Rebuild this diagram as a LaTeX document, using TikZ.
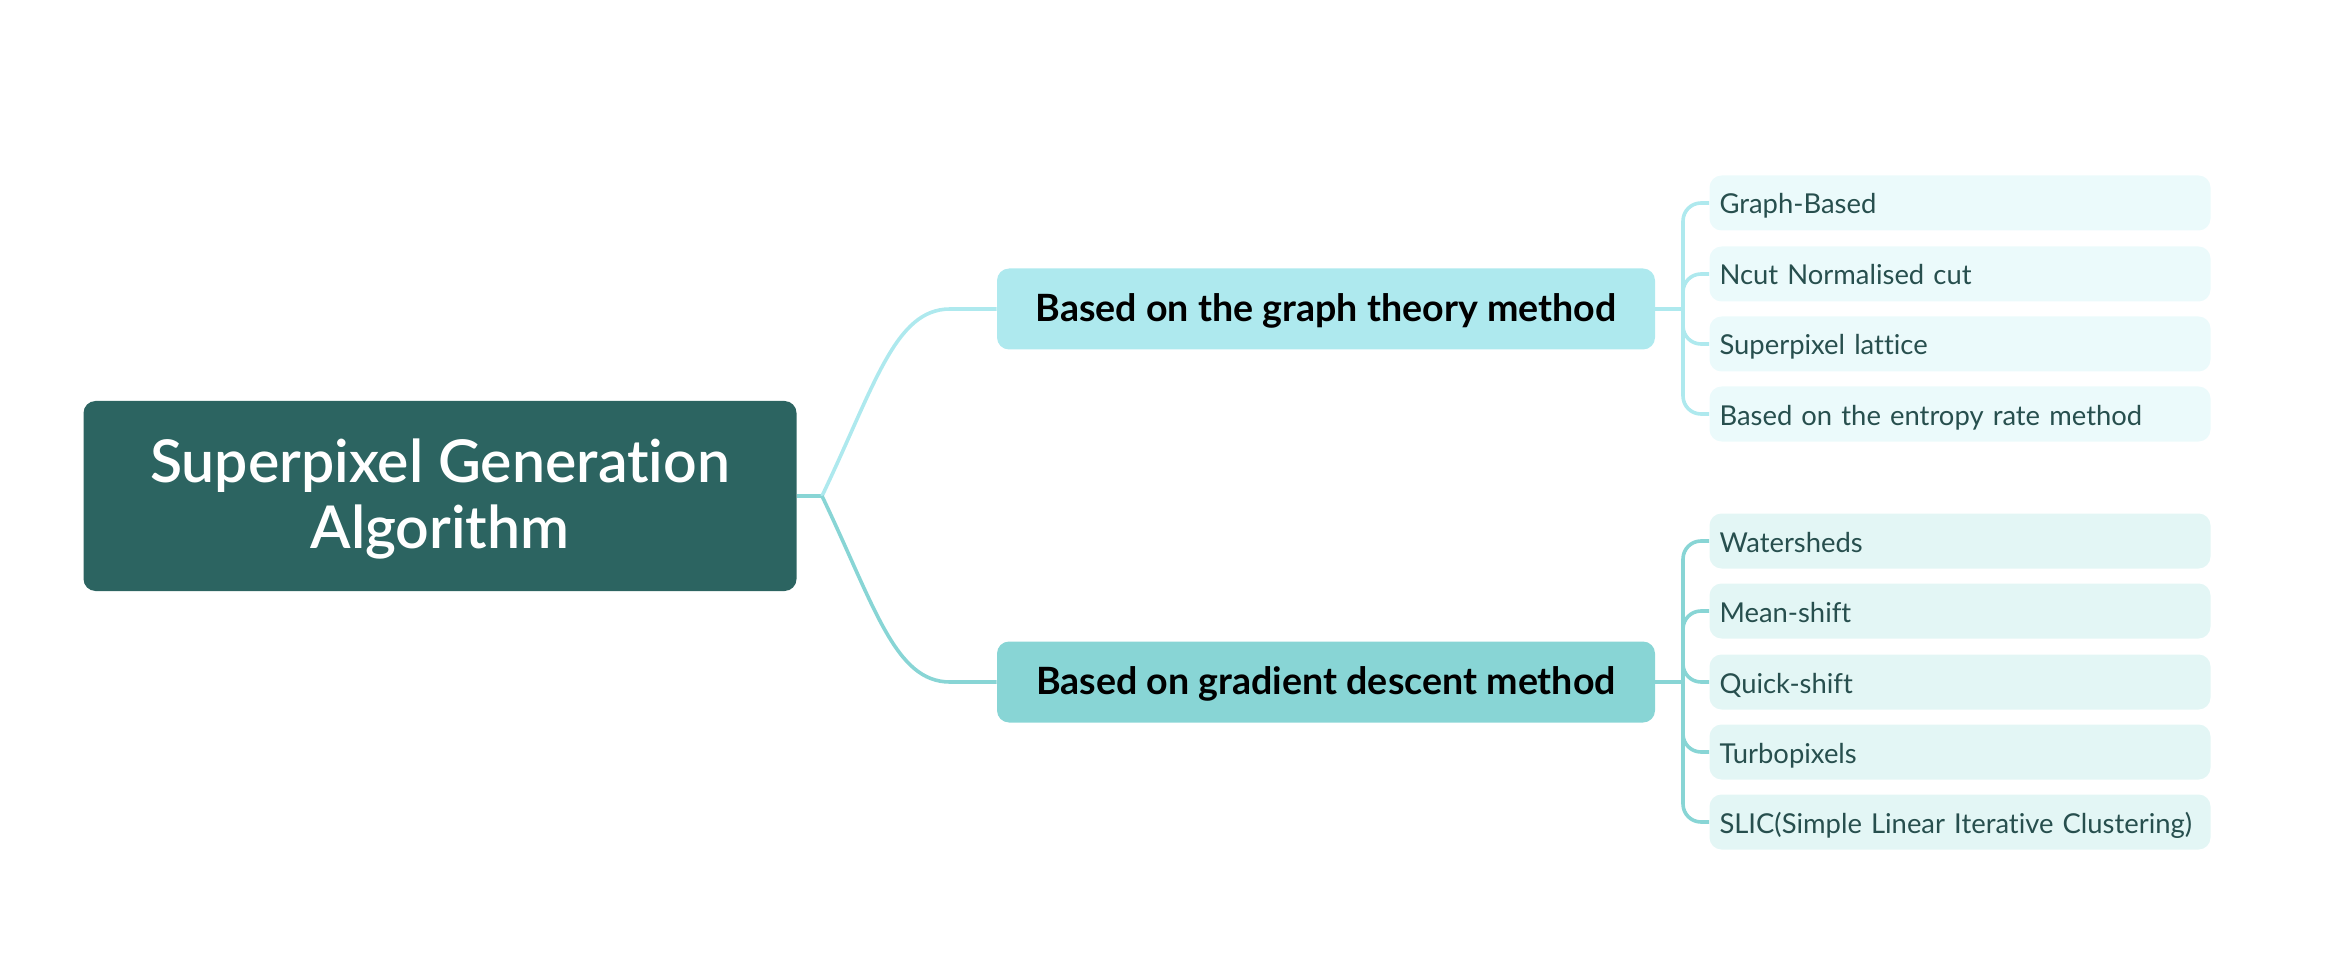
\documentclass[tikz,border=0pt]{standalone}
\usepackage{fontspec}
\setmainfont{Lato}[Ligatures=NoCommon]
\newfontfamily\rootfont{Lato Semibold}[Ligatures=NoCommon]
\definecolor{rootc}{HTML}{2C6461}
\definecolor{bonec}{HTML}{AEE9EE}
\definecolor{btwoc}{HTML}{88D5D5}
\definecolor{lonec}{HTML}{EBFAFB}
\definecolor{ltwoc}{HTML}{E3F6F5}
\definecolor{leaftxt}{HTML}{274F4E}
\newcommand{\downby}[2]{\raisebox{0pt}[\dimexpr\height+#1\relax][\depth]{#2}}
\begin{document}
\begin{tikzpicture}[x=0.5pt,y=-0.5pt,
  rootbox/.style={fill=rootc, rounded corners=6pt, minimum width=356.5pt, minimum height=95pt, text=white, font=\rootfont\fontsize{29.5}{33}\selectfont, align=center, inner sep=0pt},
  branchbox/.style={rounded corners=6pt, minimum width=329pt, minimum height=40.5pt, text=black, font=\bfseries\fontsize{18.8}{22}\selectfont, inner sep=0pt},
  leafbox/.style={rounded corners=6pt, minimum height=27.5pt, text width=240.5pt, inner xsep=5pt, inner ysep=0pt, text height=12.5pt, text depth=1.5pt, align=left, text=leaftxt, font=\fontsize{13.7}{16}\selectfont},
  conn/.style={line width=1.8pt}
]
\useasboundingbox (0,0) rectangle (2344,978);
\node[rootbox] (root) at (440,496) {\downby{6pt}{\begin{tabular}{@{}c@{}}Superpixel Generation\\Algorithm\end{tabular}}};
\node[branchbox, fill=bonec] (b1) at (1326,309) {\downby{2.4pt}{Based on the graph theory method}};
\node[branchbox, fill=btwoc] (b2) at (1326,682) {\downby{2.4pt}{Based on gradient descent method}};

\node[leafbox, fill=lonec] (l1) at (1960,203) {Graph-Based};
\node[leafbox, fill=lonec] (l2) at (1960,274) {Ncut Normalised cut};
\node[leafbox, fill=lonec] (l3) at (1960,344) {Superpixel lattice};
\node[leafbox, fill=lonec] (l4) at (1960,414) {Based on the entropy rate method};

\node[leafbox, fill=ltwoc] (m1) at (1960,541) {Watersheds};
\node[leafbox, fill=ltwoc] (m2) at (1960,611) {Mean-shift};
\node[leafbox, fill=ltwoc] (m3) at (1960,682) {Quick-shift};
\node[leafbox, fill=ltwoc] (m4) at (1960,752) {Turbopixels};
\node[leafbox, fill=ltwoc] (m5) at (1960,822) {SLIC(Simple Linear Iterative Clustering)};

\coordinate (r0) at (822,496);
\coordinate (j1) at (1683,309);
\coordinate (j2) at (1683,682);

\draw[conn, draw=btwoc] (root.east) -- (r0);
\draw[conn, draw=bonec] (r0) .. controls (875,385) and (895,309) .. (950,309) -- (b1.west);
\draw[conn, draw=btwoc] (r0) .. controls (875,607) and (895,682) .. (950,682) -- (b2.west);

\draw[conn, draw=bonec] (b1.east) -- (j1);
\foreach \n in {l1,l2,l3,l4}{
  \draw[conn, draw=bonec, rounded corners=9pt] (j1) |- (\n.west);
}
\draw[conn, draw=btwoc] (b2.east) -- (j2);
\foreach \n in {m1,m2,m3,m4,m5}{
  \draw[conn, draw=btwoc, rounded corners=9pt] (j2) |- (\n.west);
}
\end{tikzpicture}
\end{document}
